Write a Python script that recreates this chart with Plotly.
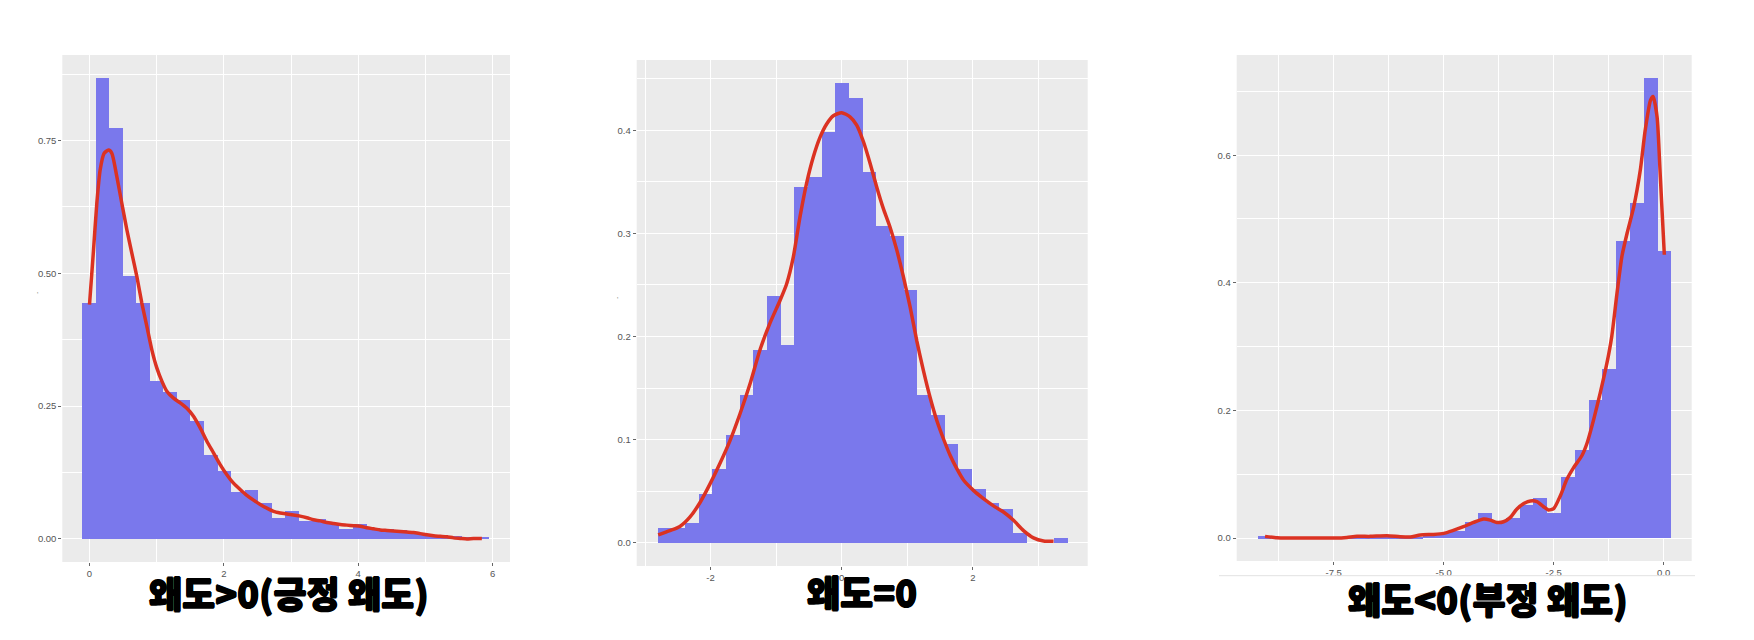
import plotly.graph_objects as go

# ---------------- data ----------------
# Panel 1 : positive skew
p1_bin_centers = [-0.007, 0.195, 0.397, 0.598, 0.800, 1.002, 1.204, 1.406, 1.607, 1.809,
                  2.011, 2.213, 2.415, 2.616, 2.818, 3.020, 3.222, 3.424, 3.625, 3.827,
                  4.029, 4.231, 4.433, 4.634, 4.836, 5.038, 5.240, 5.442, 5.643, 5.845]
p1_bin_width = 0.2018
p1_density = [0.445, 0.867, 0.773, 0.495, 0.445, 0.297, 0.277, 0.261, 0.222, 0.158,
              0.127, 0.088, 0.092, 0.068, 0.039, 0.053, 0.034, 0.038, 0.030, 0.019,
              0.029, 0.021, 0.018, 0.016, 0.013, 0.010, 0.0075, 0.005, 0.0025, 0.0045]
p1_kde_x = [0.0, 0.06, 0.109, 0.159, 0.218, 0.283, 0.333, 0.407, 0.481, 0.556, 0.630, 0.705,
            0.779, 0.854, 0.928, 1.002, 1.077, 1.151, 1.251, 1.350, 1.449, 1.548, 1.648, 1.747,
            1.846, 1.945, 2.045, 2.144, 2.243, 2.342, 2.442, 2.541, 2.640, 2.739, 2.839, 2.938,
            3.037, 3.136, 3.236, 3.335, 3.434, 3.533, 3.633, 3.732, 3.831, 3.931, 4.030, 4.129,
            4.228, 4.328, 4.427, 4.526, 4.625, 4.725, 4.824, 4.923, 5.022, 5.122, 5.221, 5.320,
            5.419, 5.519, 5.618, 5.717, 5.841]
p1_kde_y = [0.441, 0.544, 0.632, 0.695, 0.726, 0.732, 0.726, 0.682, 0.632, 0.582, 0.538, 0.494,
            0.444, 0.400, 0.356, 0.322, 0.297, 0.278, 0.265, 0.256, 0.246, 0.231, 0.209, 0.184,
            0.162, 0.140, 0.121, 0.105, 0.093, 0.082, 0.073, 0.065, 0.058, 0.052, 0.049, 0.047,
            0.045, 0.043, 0.040, 0.036, 0.034, 0.031, 0.029, 0.027, 0.026, 0.025, 0.024, 0.021,
            0.019, 0.017, 0.016, 0.015, 0.014, 0.013, 0.012, 0.010, 0.008, 0.006, 0.005, 0.004,
            0.002, 0.001, 0.0, 0.001, 0.001]

# Panel 2 : zero skew
p2_bin_centers = [-2.710, -2.501, -2.293, -2.084, -1.876, -1.667, -1.459, -1.250, -1.042, -0.833,
                  -0.625, -0.416, -0.208, 0.001, 0.209, 0.418, 0.626, 0.835, 1.043, 1.252,
                  1.460, 1.669, 1.877, 2.086, 2.294, 2.503, 2.711, 2.920, 3.128, 3.337]
p2_bin_width = 0.2085
p2_density = [0.0142, 0.0142, 0.019, 0.0476, 0.0718, 0.105, 0.1437, 0.1867, 0.2398, 0.1916,
              0.3453, 0.355, 0.3984, 0.4456, 0.4314, 0.3595, 0.3071, 0.2971, 0.245, 0.1437,
              0.1243, 0.0955, 0.0718, 0.0524, 0.0385, 0.033, 0.0097, 0.0, 0.0, 0.0049]
p2_kde_x = [-2.799, -2.621, -2.468, -2.316, -2.163, -2.010, -1.858, -1.705, -1.552, -1.399,
            -1.247, -1.094, -0.941, -0.840, -0.738, -0.636, -0.534, -0.433, -0.331, -0.229,
            -0.127, 0.0, 0.127, 0.229, 0.331, 0.433, 0.534, 0.636, 0.738, 0.840, 0.941, 1.043,
            1.145, 1.247, 1.349, 1.450, 1.552, 1.654, 1.756, 1.858, 2.010, 2.163, 2.316, 2.468,
            2.621, 2.774, 2.926, 3.079, 3.232]
p2_kde_y = [0.0078, 0.012, 0.016, 0.025, 0.039, 0.057, 0.077, 0.099, 0.125, 0.154,
            0.187, 0.213, 0.235, 0.251, 0.277, 0.316, 0.349, 0.374, 0.393, 0.406,
            0.414, 0.417, 0.413, 0.405, 0.389, 0.368, 0.345, 0.324, 0.306, 0.284, 0.258, 0.229,
            0.196, 0.167, 0.141, 0.119, 0.101, 0.085, 0.072, 0.061, 0.051, 0.043, 0.036, 0.030,
            0.022, 0.012, 0.005, 0.002, 0.0016]

# Panel 3 : negative skew
p3_bin_centers = [-9.077, -8.764, -8.450, -8.137, -7.823, -7.510, -7.197, -6.883, -6.570, -6.256,
                  -5.943, -5.630, -5.316, -5.003, -4.689, -4.376, -4.063, -3.749, -3.436, -3.122,
                  -2.809, -2.496, -2.182, -1.869, -1.555, -1.242, -0.929, -0.615, -0.302, 0.012]
p3_bin_width = 0.3134
p3_density = [0.0026, 0.0, 0.0, 0.0, 0.0, 0.0, 0.001, 0.0015, 0.001, 0.002,
              0.001, 0.002, 0.004, 0.008, 0.011, 0.0255, 0.0385, 0.0255, 0.032, 0.052,
              0.0635, 0.0385, 0.0958, 0.1375, 0.217, 0.2656, 0.466, 0.5245, 0.7214, 0.4505]
p3_kde_x = [-9.06, -8.79, -8.57, -8.19, -7.81, -7.43, -7.20, -6.97, -6.67, -6.29, -5.99, -5.76,
            -5.53, -5.23, -5.00, -4.78, -4.55, -4.32, -4.09, -3.94, -3.79, -3.64, -3.49, -3.34,
            -3.18, -3.03, -2.88, -2.73, -2.62, -2.50, -2.35, -2.20, -2.05, -1.86, -1.74, -1.59,
            -1.44, -1.29, -1.18, -1.06, -0.95, -0.83, -0.68, -0.53, -0.42, -0.30, -0.24, -0.15,
            -0.076, 0.015]
p3_kde_y = [0.0026, 0.0005, 0.0, 0.0, 0.0, 0.0, 0.001, 0.0026, 0.0026, 0.0036, 0.002, 0.0016,
            0.0047, 0.0057, 0.0073, 0.012, 0.0177, 0.0245, 0.0297, 0.028, 0.0245, 0.0255, 0.032, 0.045,
            0.054, 0.058, 0.057, 0.049, 0.044, 0.046, 0.066, 0.092, 0.110, 0.129, 0.149, 0.186,
            0.228, 0.274, 0.316, 0.384, 0.441, 0.478, 0.519, 0.577, 0.639, 0.686, 0.692, 0.660,
            0.566, 0.444]

titles = ["왜도>0(긍정 왜도)", "왜도=0", "왜도<0(부정 왜도)"]

p1_xticks = [0, 2, 4, 6]
p1_yticks = [0.0, 0.25, 0.5, 0.75]
p1_yticklabels = ["0.00", "0.25", "0.50", "0.75"]
p2_xticks = [-2, 0, 2]
p2_yticks = [0.0, 0.1, 0.2, 0.3, 0.4]
p2_yticklabels = ["0.0", "0.1", "0.2", "0.3", "0.4"]
p3_xticks = [-7.5, -5.0, -2.5, 0.0]
p3_xticklabels = ["-7.5", "-5.0", "-2.5", "0.0"]
p3_yticks = [0.0, 0.2, 0.4, 0.6]
p3_yticklabels = ["0.0", "0.2", "0.4", "0.6"]

# ---------------- style ----------------
PAGE_OFFSET = 8          # default body margin of the html page
W, H = 1754 - PAGE_OFFSET, 640 - PAGE_OFFSET
BAR_COLOR = "#7A78EC"
LINE_COLOR = "#DB3222"
PANEL_BG = "#EBEBEB"
TICK_FONT = dict(family="Liberation Sans, Arial, sans-serif", size=9.5, color="#555555")

def px_x(v):
    return (v - PAGE_OFFSET) / W

def px_y(v):
    return 1 - (v - PAGE_OFFSET) / H

fig = go.Figure()

panels = [
    dict(cx=p1_bin_centers, w=p1_bin_width, d=p1_density, kx=p1_kde_x, ky=p1_kde_y),
    dict(cx=p2_bin_centers, w=p2_bin_width, d=p2_density, kx=p2_kde_x, ky=p2_kde_y),
    dict(cx=p3_bin_centers, w=p3_bin_width, d=p3_density, kx=p3_kde_x, ky=p3_kde_y),
]
for i, p in enumerate(panels):
    sfx = "" if i == 0 else str(i + 1)
    fig.add_trace(go.Bar(x=p["cx"], y=p["d"], width=p["w"], marker=dict(color=BAR_COLOR, line=dict(width=0)),
                         xaxis="x" + sfx, yaxis="y" + sfx, showlegend=False, hoverinfo="skip"))
    fig.add_trace(go.Scatter(x=p["kx"], y=p["ky"], mode="lines",
                             line=dict(color=LINE_COLOR, width=3.5, shape="spline", smoothing=0.6),
                             xaxis="x" + sfx, yaxis="y" + sfx, showlegend=False, hoverinfo="skip"))

def axis(domain, rng, tickvals, ticktext, minor_dtick, minor_tick0, anchor):
    return dict(domain=domain, range=rng, tickmode="array", tickvals=tickvals, ticktext=ticktext,
                showgrid=True, gridcolor="white", gridwidth=1.1, zeroline=False, showline=False,
                ticks="outside", ticklen=3, tickcolor="#666666", tickwidth=1, tickfont=TICK_FONT,
                minor=dict(showgrid=True, gridcolor="white", gridwidth=0.5, dtick=minor_dtick,
                           tick0=minor_tick0, ticks=""),
                anchor=anchor, fixedrange=True, automargin=False, layer="below traces")

d1x = [px_x(62.3), px_x(510)]
d1y = [px_y(562), px_y(55)]
d2x = [px_x(636.7), px_x(1087.7)]
d2y = [px_y(566), px_y(60)]
d3x = [px_x(1236.7), px_x(1691.7)]
d3y = [px_y(561), px_y(55)]

fig.update_layout(
    width=W, height=H, margin=dict(l=0, r=0, t=0, b=0, autoexpand=False),
    paper_bgcolor="white", plot_bgcolor=PANEL_BG, bargap=0, barmode="overlay",
    xaxis=axis(d1x, [-0.405, 6.26], p1_xticks, [str(v) for v in p1_xticks], 1, 1, "y"),
    yaxis=axis(d1y, [-0.0434, 0.911], p1_yticks, p1_yticklabels, 0.25, 0.125, "x"),
    xaxis2=axis(d2x, [-3.127, 3.753], p2_xticks, [str(v) for v in p2_xticks], 2, 1, "y2"),
    yaxis2=axis(d2y, [-0.0223, 0.468], p2_yticks, p2_yticklabels, 0.1, 0.05, "x2"),
    xaxis3=axis(d3x, [-9.704, 0.637], p3_xticks, p3_xticklabels, 2.5, -1.25, "y3"),
    yaxis3=axis(d3y, [-0.036, 0.757], p3_yticks, p3_yticklabels, 0.2, 0.1, "x3"),
)

title_pos = [(289, 592), (862, 591), (1488, 598)]
for t, (tx, ty) in zip(titles, title_pos):
    fig.add_annotation(text=t, x=px_x(tx), y=px_y(ty), xref="paper", yref="paper",
                       xanchor="center", yanchor="middle", showarrow=False,
                       font=dict(family="Noto Sans CJK KR Black, Noto Sans CJK KR, Noto Sans, sans-serif",
                                 size=36, color="black", weight=900,
                                 shadow="0.7px 0 0 black, -0.7px 0 0 black, 0 0.7px 0 black, 0 -0.7px 0 black"))

# tiny y-axis title marks
for (tx, ty) in [(35, 293), (615, 298)]:
    fig.add_annotation(text=".", x=px_x(tx), y=px_y(ty), xref="paper", yref="paper",
                       xanchor="center", yanchor="middle", showarrow=False, textangle=-90,
                       font=dict(family="Liberation Sans, Arial", size=8, color="#333333"))

# faint border line under third panel
fig.add_shape(type="line", xref="paper", yref="paper", x0=px_x(1219), x1=px_x(1695),
              y0=px_y(575.7), y1=px_y(575.7), line=dict(color="#E2E2E2", width=1))

fig.write_html("out.html")
